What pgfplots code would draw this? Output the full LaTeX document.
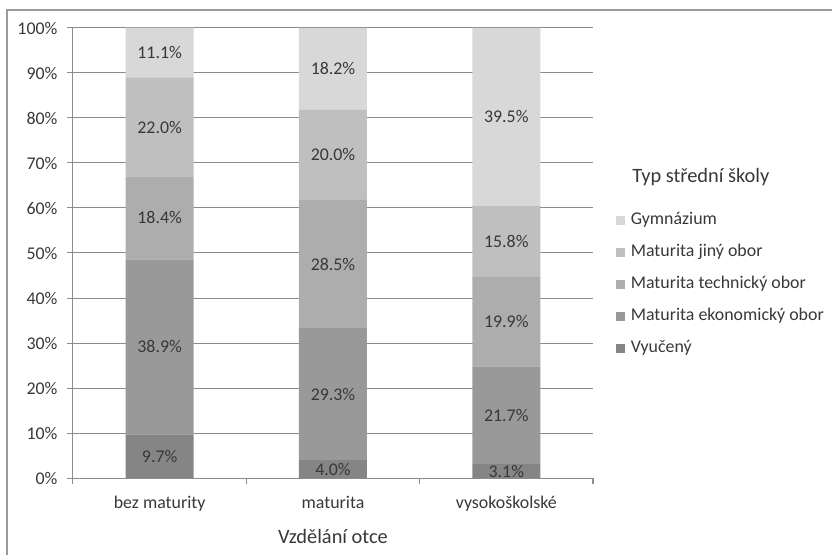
\documentclass[border=0pt]{standalone}
\usepackage{fontspec}
\setmainfont{Carlito}
\usepackage{pgfplots}
\pgfplotsset{compat=1.18}
\definecolor{cA}{HTML}{858585}
\definecolor{cB}{HTML}{999999}
\definecolor{cC}{HTML}{ADADAD}
\definecolor{cD}{HTML}{BFBFBF}
\definecolor{cE}{HTML}{D8D8D8}
\definecolor{gridc}{HTML}{8C8C8C}
\definecolor{txt}{HTML}{383838}
\definecolor{framec}{HTML}{9A9A9A}
\newcommand{\fs}{\fontsize{13.4}{16}\selectfont}
\newcommand{\fl}{\fontsize{15.3}{18}\selectfont}
\begin{document}
\begin{tikzpicture}
\useasboundingbox (-54.75pt,-57pt) rectangle (569.25pt,358.5pt);
\draw[framec, line width=0.9pt] (-49.5pt,-60pt) -- (-49.5pt,351pt) -- (575pt,351pt);
\begin{axis}[
  at={(0pt,0pt)}, anchor=south west,
  scale only axis, width=390pt, height=337.5pt,
  ybar stacked, bar width=51pt,
  xmin=-0.5, xmax=2.5, ymin=0, ymax=100,
  xtick={-0.5,0.5,1.5,2.5}, xticklabels={},
  ytick={0,10,...,100},
  yticklabels={0\%,10\%,20\%,30\%,40\%,50\%,60\%,70\%,80\%,90\%,100\%},
  ymajorgrids, grid style={gridc, line width=0.75pt},
  axis x line*=bottom, axis y line*=left,
  axis line style={gridc, line width=0.75pt},
  tick style={gridc, line width=0.75pt},
  tick align=outside, major tick length=4.5pt,
  yticklabel style={font=\fs, text=txt, inner sep=0pt, anchor=east, xshift=-7pt},
]
\addplot[fill=cA, draw=none] coordinates {(0,9.7) (1,4.0) (2,3.1)};
\addplot[fill=cB, draw=none] coordinates {(0,38.9) (1,29.3) (2,21.7)};
\addplot[fill=cC, draw=none] coordinates {(0,18.4) (1,28.5) (2,19.9)};
\addplot[fill=cD, draw=none] coordinates {(0,22.0) (1,20.0) (2,15.8)};
\addplot[fill=cE, draw=none] coordinates {(0,11.1) (1,18.2) (2,39.5)};
\end{axis}
\begin{axis}[
  at={(0pt,0pt)}, anchor=south west,
  scale only axis, width=390pt, height=337.5pt,
  xmin=-0.5, xmax=2.5, ymin=0, ymax=100,
  axis line style={draw=none}, tick style={draw=none},
  xtick={0,1,2}, xticklabels={bez maturity, maturita, vysokoškolské},
  ytick=\empty,
  xticklabel style={font=\fs, text=txt, anchor=base, inner sep=0pt, yshift=-22.5pt},
  xlabel={Vzdělání otce},
  xlabel style={font=\fl, text=txt, at={(axis description cs:0.5,0)}, anchor=base, inner sep=0pt, yshift=-48.75pt},
  legend style={at={(axis description cs:1.0442,0.591)}, anchor=north west, draw=none, fill=none, inner sep=0pt, row sep=12pt, column sep=4.5pt, font=\fs, text=txt, nodes={inner sep=0pt, text height=9pt, text depth=3pt}},
  legend cell align=left,
  clip=false,
  /pgf/number format/assume math mode=true,
]
\addplot[only marks, mark=none, nodes near coords={\pgfmathprintnumber[fixed, fixed zerofill, precision=1]{\pgfplotspointmeta}\%}, point meta=explicit,
  every node near coord/.append style={font=\fs, text=txt, anchor=center, inner sep=0pt}, forget plot]
  table[meta=v] {
x y v
0 4.85 9.7
0 29.15 38.9
0 57.8 18.4
0 78.0 22.0
0 94.55 11.1
1 2.0 4.0
1 18.65 29.3
1 47.55 28.5
1 71.8 20.0
1 90.9 18.2
2 1.55 3.1
2 13.95 21.7
2 34.75 19.9
2 52.6 15.8
2 80.25 39.5
};
\addlegendimage{legend image code/.code={\fill[cE] (0pt,-3pt) rectangle (6pt,3pt);}}
\addlegendentry{Gymnázium}
\addlegendimage{legend image code/.code={\fill[cD] (0pt,-3pt) rectangle (6pt,3pt);}}
\addlegendentry{Maturita jiný obor}
\addlegendimage{legend image code/.code={\fill[cC] (0pt,-3pt) rectangle (6pt,3pt);}}
\addlegendentry{Maturita technický obor}
\addlegendimage{legend image code/.code={\fill[cB] (0pt,-3pt) rectangle (6pt,3pt);}}
\addlegendentry{Maturita ekonomický obor}
\addlegendimage{legend image code/.code={\fill[cA] (0pt,-3pt) rectangle (6pt,3pt);}}
\addlegendentry{Vyučený}
\node[font=\fl, text=txt, anchor=base west, inner sep=0pt] at ([yshift=-3.75pt]axis description cs:1.075,0.667) {Typ střední školy};
\end{axis}
\end{tikzpicture}
\end{document}
